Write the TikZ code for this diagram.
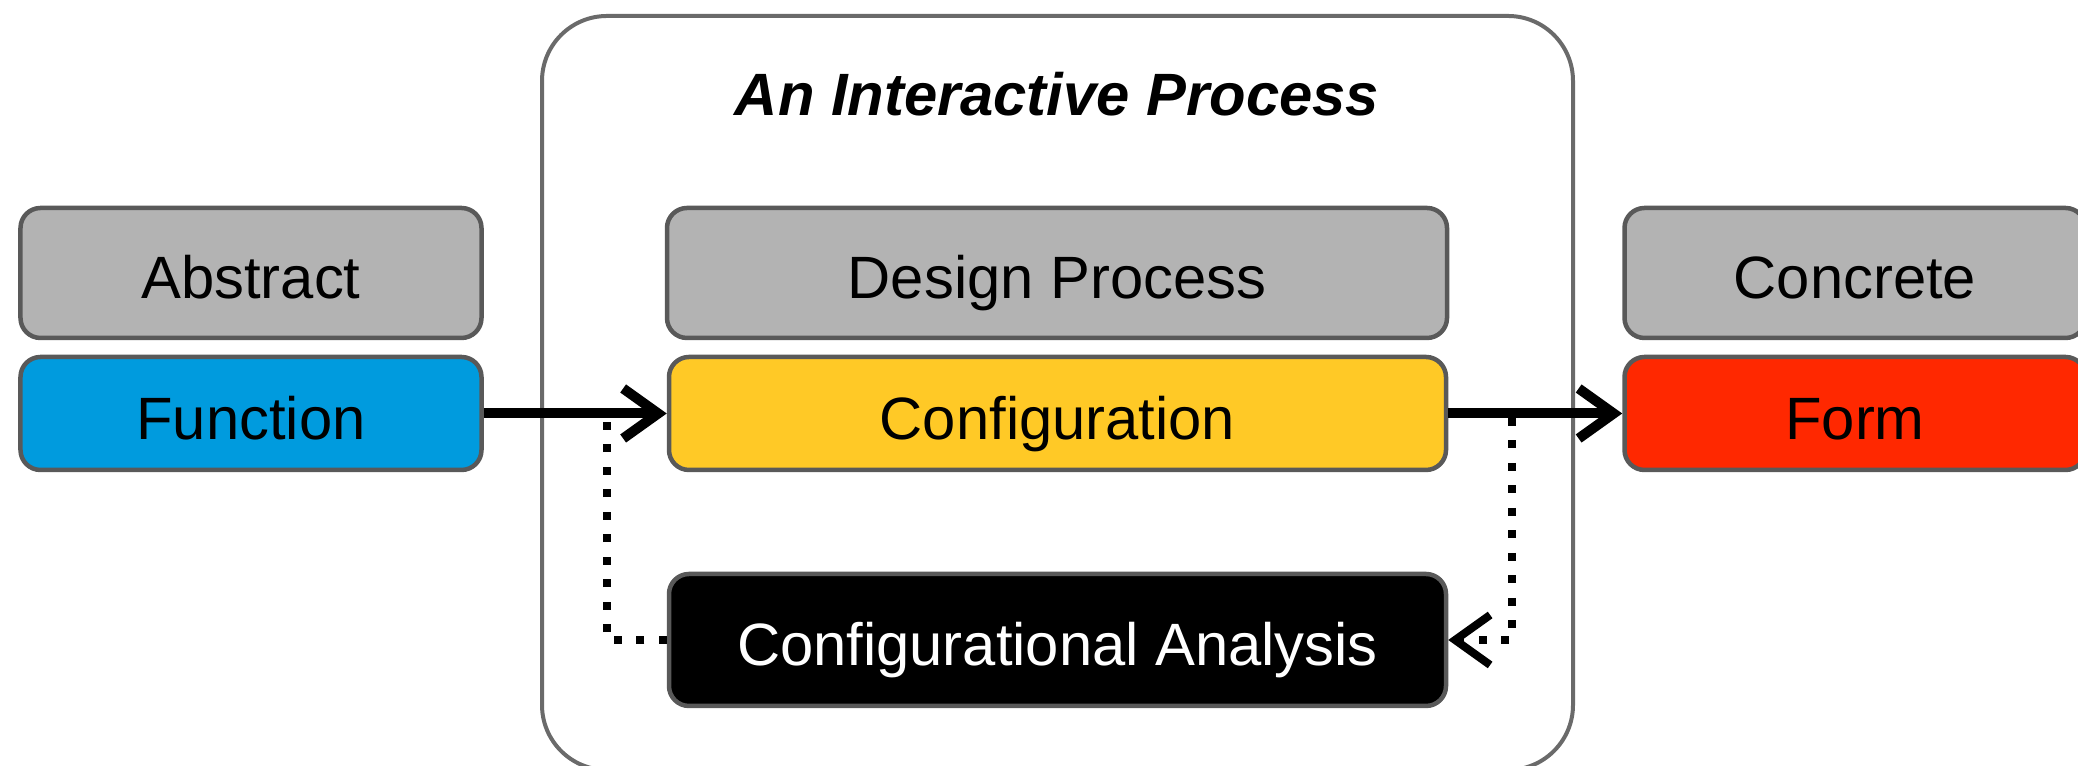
\documentclass[tikz,border=0pt]{standalone}
\usepackage{fontspec}
\setmainfont{Liberation Sans}
\usetikzlibrary{arrows.meta}
\definecolor{boxgray}{RGB}{179,179,179}
\definecolor{edgegray}{RGB}{89,89,89}
\definecolor{funcblue}{RGB}{0,155,222}
\definecolor{confyellow}{RGB}{255,201,38}
\definecolor{formred}{RGB}{255,40,0}
\begin{document}
\begin{tikzpicture}[
	font=\fontsize{17}{20}\selectfont,
	box/.style={draw=edgegray, line width=0.045cm, rounded corners=0.2cm, inner sep=0pt,
		text height=0.52cm, text depth=0cm, minimum width=4.61cm, minimum height=1.3cm},
	lowbox/.style={box, minimum height=1.13cm},
	flow/.style={line width=0.1cm, -{Straight Barb[length=0.35cm,width=0.5cm]}},
	loop/.style={line width=0.08cm, dash pattern=on 0.08cm off 0.145cm}]
	\useasboundingbox (0,0) rectangle (20.78,7.66);
	\draw[draw=edgegray!90, line width=0.04cm, rounded corners=0.65cm] (5.42,-0.04) rectangle (15.73,7.50);
	\node[anchor=base] (title) at (10.57,6.50) {\bfseries\itshape An Interactive Process};
	\node[box, fill=boxgray] (abstract) at (2.51,4.93) {Abstract};
	\node[lowbox, fill=funcblue] (function) at (2.51,3.525) {Function};
	\node[box, fill=boxgray, minimum width=7.8cm] (design) at (10.57,4.93) {Design Process};
	\node[lowbox, fill=confyellow, minimum width=7.77cm] (config) at (10.575,3.525) {Configuration};
	\node[box, fill=black, text=white, minimum width=7.77cm, minimum height=1.32cm] (analysis) at (10.575,1.26) {Configurational Analysis};
	\node[box, fill=boxgray] (concrete) at (18.55,4.93) {Concrete};
	\node[lowbox, fill=formred] (form) at (18.55,3.525) {Form};
	\coordinate (joinL) at (6.07,3.48);
	\coordinate (joinR) at (15.12,3.48);
	\draw[flow] (function.east) -- (config.west);
	\draw[flow] (config.east) -- (form.west);
	\draw[loop] (analysis.west) -| (joinL);
	\draw[loop, -{Straight Barb[length=0.35cm,width=0.5cm]}] (joinR) |- (analysis.east);
\end{tikzpicture}
\end{document}
